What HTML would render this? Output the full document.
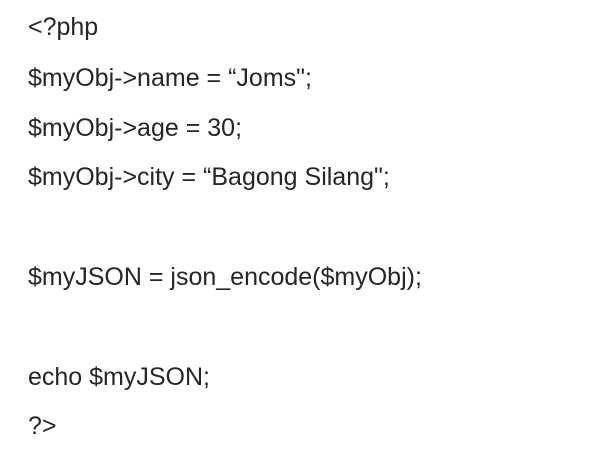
<!DOCTYPE html>
<html><head><meta charset="utf-8"><style>
html,body{margin:0;padding:0;background:#fff;width:613px;height:463px;overflow:hidden}
.l{position:absolute;left:28px;font-family:"Liberation Sans",sans-serif;font-size:25px;color:#262626;white-space:pre;line-height:1}
</style></head><body>
<div class="l" style="top:15px">&lt;?php</div>
<div class="l" style="top:66px">$myObj-&gt;name = “Joms";</div>
<div class="l" style="top:116px">$myObj-&gt;age = 30;</div>
<div class="l" style="top:165px">$myObj-&gt;city = “Bagong Silang";</div>
<div class="l" style="top:265px">$myJSON = json_encode($myObj);</div>
<div class="l" style="top:365px">echo $myJSON;</div>
<div class="l" style="top:414px">?&gt;</div>
</body></html>
